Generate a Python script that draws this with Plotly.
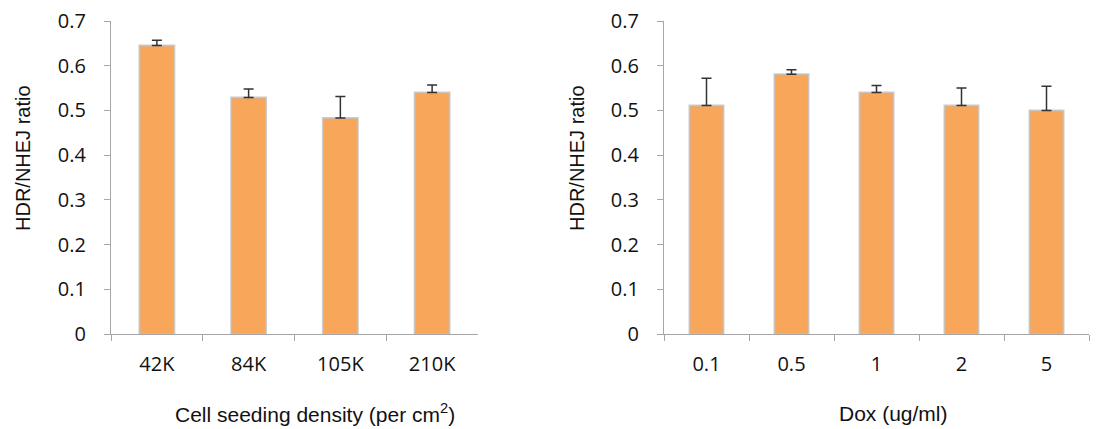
import plotly.graph_objects as go

density_labels = ["42K", "84K", "105K", "210K"]
density_ratio = [0.645, 0.529, 0.483, 0.540]
density_err = [0.012, 0.019, 0.048, 0.017]

dox_labels = ["0.1", "0.5", "1", "2", "5"]
dox_ratio = [0.511, 0.581, 0.540, 0.511, 0.500]
dox_err = [0.061, 0.010, 0.016, 0.039, 0.054]

y_ticks = [0, 0.1, 0.2, 0.3, 0.4, 0.5, 0.6, 0.7]
y_ticktext = ["0", "0.1", "0.2", "0.3", "0.4", "0.5", "0.6", "0.7"]

y_title = "HDR/NHEJ ratio"
x_title_left = "Cell seeding density (per cm<sup>2</sup>)"
x_title_right = "Dox (ug/ml)"

BAR = "#F8A65A"
W, H = 1117, 429

fig = go.Figure()

def add_bars(x, y, err, xa, ya, width):
    fig.add_trace(go.Bar(
        x=x, y=y, xaxis=xa, yaxis=ya, width=width,
        marker=dict(color=BAR, line=dict(color="rgba(190,190,190,0.75)", width=2)),
        error_y=dict(type="data", array=err, arrayminus=[0] * len(err), symmetric=False,
                     color="#333333", thickness=1.5, width=5),
        showlegend=False, hoverinfo="skip",
    ))

add_bars(density_labels, density_ratio, density_err, "x", "y", 0.38)
add_bars(dox_labels, dox_ratio, dox_err, "x2", "y2", 0.40)

tick_font = dict(family="Open Sans, Noto Sans, sans-serif", size=20, color="#111111")
title_font = dict(family="Liberation Sans, Arial, sans-serif", size=20, color="#111111")
xtitle_font = dict(family="Liberation Sans, Arial, sans-serif", size=21, color="#111111")
axis_col = "#a6a6a6"

ydom = [95 / H, 408 / H]
xdom1 = [111 / W, 478 / W]
xdom2 = [664 / W, 1089 / W]

common_x = dict(showline=True, linecolor=axis_col, linewidth=1.2, ticks="outside",
                ticklen=6, tickcolor=axis_col, tickson="boundaries", tickfont=tick_font,
                showgrid=False, zeroline=False, automargin=False, ticklabelstandoff=12)
common_y = dict(range=[0, 0.7], tickvals=y_ticks, ticktext=y_ticktext, showline=True,
                linecolor=axis_col, linewidth=1.2, ticks="outside", ticklen=6,
                tickcolor=axis_col, tickfont=tick_font, showgrid=False, zeroline=False,
                automargin=False, ticklabelstandoff=14)

fig.update_layout(
    width=W, height=H, margin=dict(l=0, r=0, t=0, b=0),
    paper_bgcolor="white", plot_bgcolor="white",
    xaxis=dict(domain=xdom1, anchor="y", **common_x),
    yaxis=dict(domain=ydom, anchor="x", **common_y),
    xaxis2=dict(domain=xdom2, anchor="y2", **common_x),
    yaxis2=dict(domain=ydom, anchor="x2", **common_y),
)

def ann(text, x, y, font, angle=0):
    fig.add_annotation(text=text, x=x / W, y=1 - y / H, xref="paper", yref="paper",
                       showarrow=False, font=font, textangle=angle,
                       xanchor="center", yanchor="middle")

ann(y_title, 23, 158, title_font, -90)
ann(y_title, 577, 158, title_font, -90)
ann(x_title_left, 315, 413, xtitle_font)
ann(x_title_right, 893, 413, xtitle_font)

fig.write_html("out.html")
